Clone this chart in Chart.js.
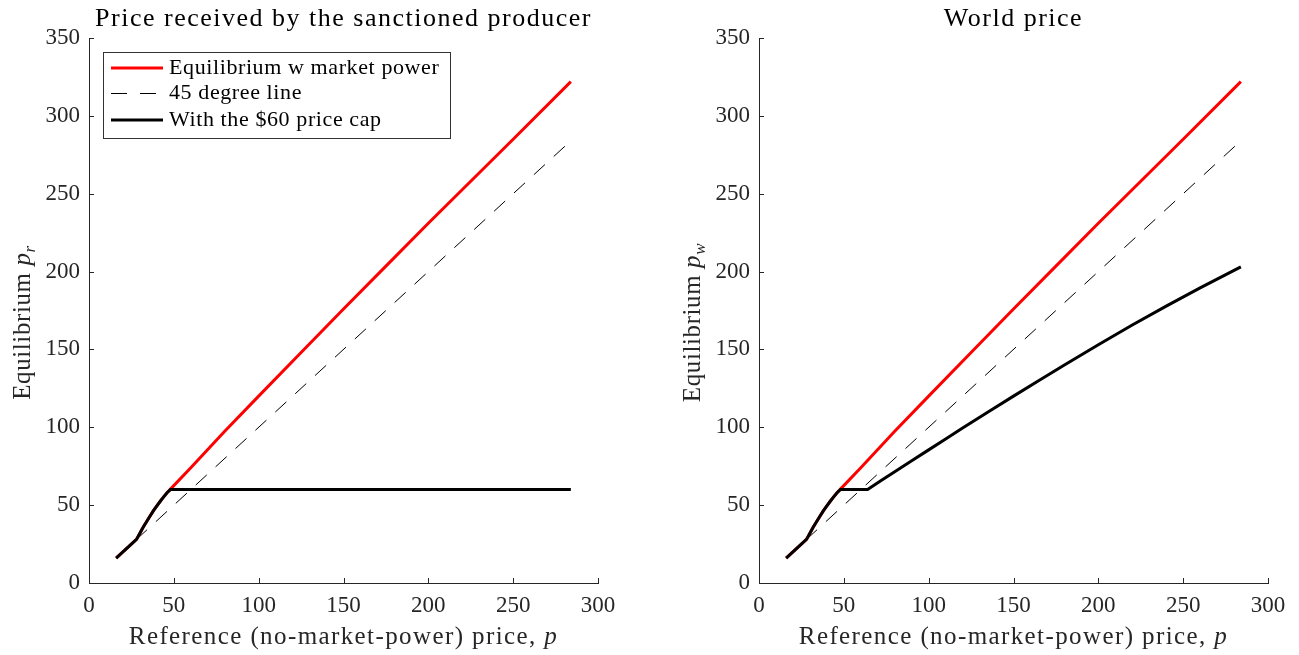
<!DOCTYPE html>
<html>
<head>
<meta charset="utf-8">
<script src="https://cdn.jsdelivr.net/npm/chart.js@4.4.1/dist/chart.umd.min.js"></script>
<style>
  body { margin: 0; background: #fff; }
  #wrap { position: relative; width: 1299px; height: 655px; }
  .panel { position: absolute; top: 0; height: 655px; }
  #left { left: 0; width: 650px; }
  #right { left: 650px; width: 649px; }
</style>
</head>
<body>
<div id="wrap">
  <div class="panel" id="left"><canvas id="chartLeft"></canvas></div>
  <div class="panel" id="right"><canvas id="chartRight"></canvas></div>
</div>
<script>
// Values
const xTicks = [0, 50, 100, 150, 200, 250, 300];
const yTicks = [0, 50, 100, 150, 200, 250, 300, 350];

// Equilibrium with market power (red)
const pMarket = [16, 20, 24, 28, 30, 32, 34, 36, 38, 40, 42, 44, 46, 48, 60, 80, 100, 125, 150, 175, 200, 225, 250, 284];
const marketPower = [16, 20, 24, 28, 32, 36, 39.5, 43, 46.5, 49.5, 52.5, 55.3, 58, 60.3, 74, 97.5, 120, 148, 176, 203.5, 231, 258, 285, 322];

// 45 degree line
const pDiagonal = [16, 284];
const diagonal = [16, 284];

// With the $60 price cap: price received by the sanctioned producer
const pCapReceived = [16, 20, 24, 28, 30, 32, 34, 36, 38, 40, 42, 44, 46, 48, 284];
const capReceived = [16, 20, 24, 28, 32, 36, 39.5, 43, 46.5, 49.5, 52.5, 55.3, 58, 60, 60];

// With the $60 price cap: world price
const pCapWorld = [16, 20, 24, 28, 30, 32, 34, 36, 38, 40, 42, 44, 46, 48, 64, 72, 80, 90, 100, 110, 120, 135, 150, 165, 180, 200, 220, 240, 260, 284];
const capWorld = [16, 20, 24, 28, 32, 36, 39.5, 43, 46.5, 49.5, 52.5, 55.3, 58, 60, 60, 65.8, 71.5, 78.5, 85.5, 92.5, 99.5, 109.8, 120, 130, 140, 153, 165.7, 177.8, 189.5, 203];

const axisColor = '#262626';
const serif = '"Liberation Serif", "DejaVu Serif", serif';

function toPoints(xs, ys) {
    return xs.map((x, i) => ({ x: x, y: ys[i] }));
}

function buildDatasets(capX, capY) {
    return [
        {
            label: 'Equilibrium w market power',
            data: toPoints(pMarket, marketPower),
            borderColor: '#ff0000',
            borderWidth: 3,
            order: 2
        },
        {
            label: '45 degree line',
            data: toPoints(pDiagonal, diagonal),
            borderColor: '#000000',
            borderWidth: 1,
            borderDash: [15, 12],
            order: 3
        },
        {
            label: 'With the $60 price cap',
            data: toPoints(capX, capY),
            borderColor: '#000000',
            borderWidth: 3,
            order: 1
        }
    ];
}

// Titles, inward ticks, axis titles with math and the boxed legend
const decorPlugin = {
    id: 'decor',
    afterDraw(chart, args, opts) {
        const ctx = chart.ctx;
        const area = chart.chartArea;
        const xs = chart.scales.x;
        const ys = chart.scales.y;
        ctx.save();

        // inward tick marks
        ctx.strokeStyle = axisColor;
        ctx.lineWidth = 1;
        ctx.beginPath();
        xTicks.forEach(v => {
            const px = Math.round(xs.getPixelForValue(v)) + 0.5;
            ctx.moveTo(px, area.bottom);
            ctx.lineTo(px, area.bottom - 5);
        });
        yTicks.forEach(v => {
            const py = Math.round(ys.getPixelForValue(v)) + 0.5;
            ctx.moveTo(area.left, py);
            ctx.lineTo(area.left + 5, py);
        });
        ctx.stroke();

        // plot title
        ctx.fillStyle = '#000';
        ctx.textAlign = 'left';
        ctx.textBaseline = 'alphabetic';
        ctx.font = '26px ' + serif;
        ctx.letterSpacing = '1.5px';
        const tw = ctx.measureText(opts.title).width;
        ctx.fillText(opts.title, (area.left + area.right) / 2 - tw / 2, 26);

        // x axis title
        ctx.fillStyle = axisColor;
        ctx.letterSpacing = '1.4px';
        const xMain = 'Reference (no-market-power) price, ';
        ctx.font = '25px ' + serif;
        const w1 = ctx.measureText(xMain).width;
        ctx.font = 'italic 25px ' + serif;
        const w2 = ctx.measureText('p').width;
        let sx = (area.left + area.right) / 2 - (w1 + w2) / 2;
        ctx.font = '25px ' + serif;
        ctx.fillText(xMain, sx, 644);
        ctx.font = 'italic 25px ' + serif;
        ctx.fillText('p', sx + w1, 644);

        // y axis title (rotated)
        ctx.save();
        ctx.translate(opts.yTitleX, (area.top + area.bottom) / 2 + 12);
        ctx.rotate(-Math.PI / 2);
        ctx.letterSpacing = '0.6px';
        const yMain = 'Equilibrium ';
        ctx.font = '25px ' + serif;
        const v1 = ctx.measureText(yMain).width;
        ctx.font = 'italic 25px ' + serif;
        const v2 = ctx.measureText('p').width;
        ctx.font = 'italic 17px ' + serif;
        const v3 = ctx.measureText(opts.sub).width;
        let sy = -(v1 + v2 + v3) / 2;
        ctx.font = '25px ' + serif;
        ctx.fillText(yMain, sy, 8);
        ctx.font = 'italic 25px ' + serif;
        ctx.fillText('p', sy + v1, 8);
        ctx.font = 'italic 17px ' + serif;
        ctx.fillText(opts.sub, sy + v1 + v2, 13);
        ctx.restore();

        // legend box
        if (opts.legend) {
            const bx = area.left + 14, by = area.top + 14, bw = 347, bh = 86;
            ctx.fillStyle = '#fff';
            ctx.fillRect(bx, by, bw, bh);
            ctx.strokeStyle = '#333';
            ctx.lineWidth = 1;
            ctx.strokeRect(bx + 0.5, by + 0.5, bw, bh);
            const rows = [16, 41.5, 68];
            ctx.font = '22px ' + serif;
            ctx.letterSpacing = '0.6px';
            ctx.textBaseline = 'middle';
            chart.data.datasets.forEach((ds, i) => {
                const ry = by + rows[i];
                ctx.strokeStyle = ds.borderColor;
                ctx.lineWidth = ds.borderWidth;
                ctx.setLineDash(ds.borderDash ? [16, 13] : []);
                ctx.beginPath();
                ctx.moveTo(bx + 8, ry);
                ctx.lineTo(bx + 60, ry);
                ctx.stroke();
                ctx.setLineDash([]);
                ctx.fillStyle = '#000';
                ctx.fillText(ds.label, bx + 66, ry);
            });
        }
        ctx.restore();
    }
};

function makeChart(canvasId, capX, capY, cfg) {
    const ctx = document.getElementById(canvasId).getContext('2d');
    return new Chart(ctx, {
        type: 'line',
        data: { datasets: buildDatasets(capX, capY) },
        plugins: [decorPlugin],
        options: {
            responsive: true,
            maintainAspectRatio: false,
            animation: false,
            layout: {
                padding: { left: 0, right: cfg.padRight, top: 38, bottom: 0 }
            },
            elements: {
                point: { radius: 0 },
                line: { tension: 0, borderCapStyle: 'butt', borderJoinStyle: 'miter' }
            },
            scales: {
                x: {
                    type: 'linear',
                    min: 0,
                    max: 300,
                    afterFit: (scale) => { scale.height = 72; },
                    afterBuildTicks: (scale) => { scale.ticks = xTicks.map(v => ({ value: v })); },
                    grid: { display: false, drawTicks: false },
                    border: { display: true, color: axisColor, width: 1 },
                    ticks: {
                        padding: 9,
                        color: axisColor,
                        maxRotation: 0,
                        font: { family: serif, size: 23 }
                    }
                },
                y: {
                    type: 'linear',
                    min: 0,
                    max: 350,
                    afterFit: (scale) => { scale.width = cfg.yWidth; },
                    afterBuildTicks: (scale) => { scale.ticks = yTicks.map(v => ({ value: v })); },
                    grid: { display: false, drawTicks: false },
                    border: { display: true, color: axisColor, width: 1 },
                    ticks: {
                        padding: 9,
                        color: axisColor,
                        font: { family: serif, size: 23 }
                    }
                }
            },
            plugins: {
                legend: { display: false },
                tooltip: { enabled: false },
                decor: cfg.decor
            }
        }
    });
}

makeChart('chartLeft', pCapReceived, capReceived, {
    padRight: 52,
    yWidth: 89,
    decor: { title: 'Price received by the sanctioned producer', sub: 'r', yTitleX: 22, legend: true }
});

makeChart('chartRight', pCapWorld, capWorld, {
    padRight: 31,
    yWidth: 109,
    decor: { title: 'World price', sub: 'w', yTitleX: 42, legend: false }
});
</script>
</body>
</html>
